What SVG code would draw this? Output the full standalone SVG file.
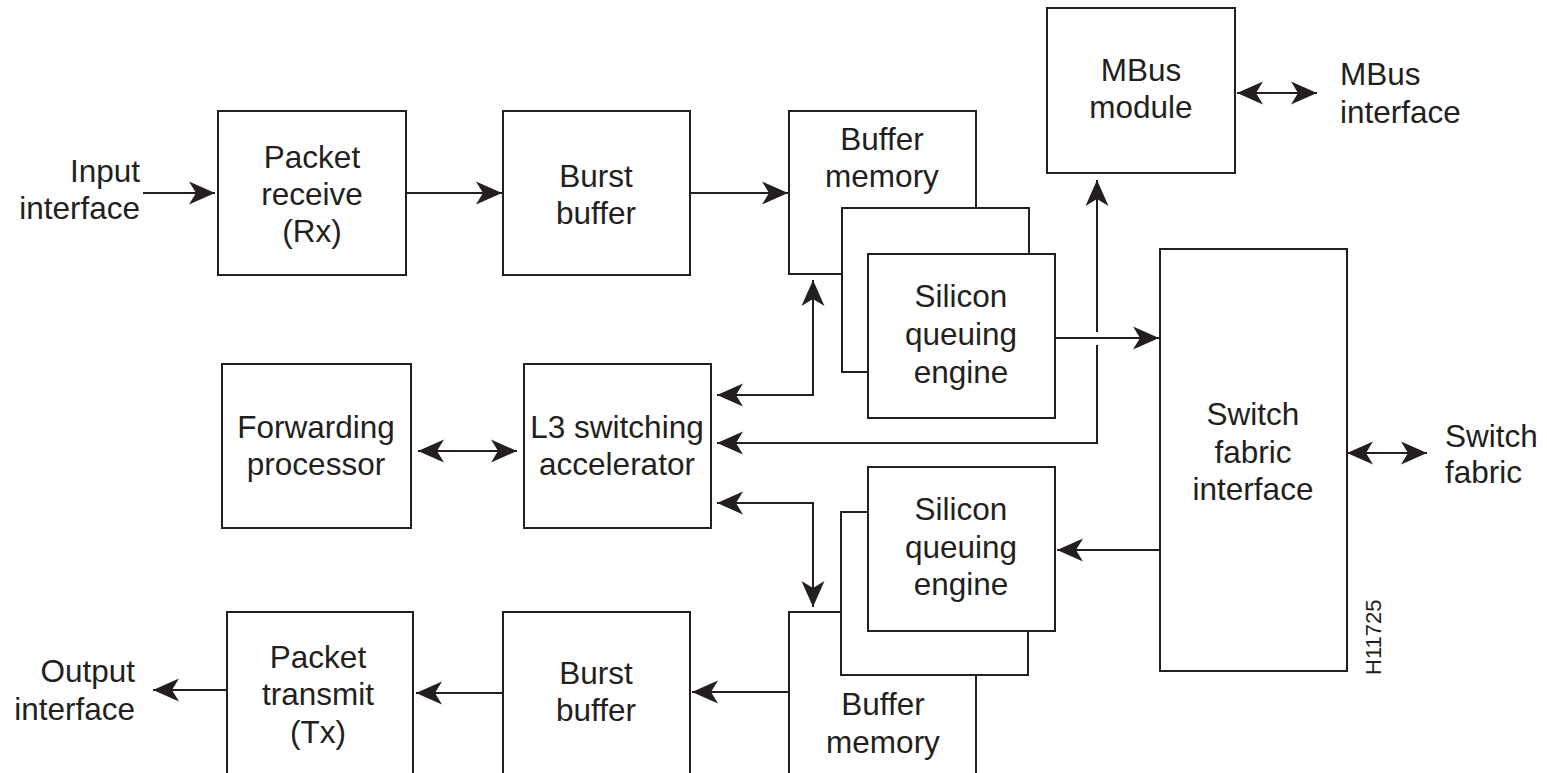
<svg xmlns="http://www.w3.org/2000/svg" width="1547" height="773" viewBox="0 0 1547 773">
<style>
.box{fill:#fff;stroke:#231f20;stroke-width:2}
.t{font-family:"Liberation Sans",Arial,sans-serif;font-size:31.5px;fill:#231f20}
.c{text-anchor:middle}
.r{text-anchor:end}
.ln{fill:none;stroke:#231f20;stroke-width:2}
.a1{marker-end:url(#ah)}
.a2{marker-start:url(#ah);marker-end:url(#ah)}
</style>
<defs>
<marker id="ah" markerUnits="userSpaceOnUse" markerWidth="30" markerHeight="26" viewBox="0 -13 28 26" refX="26" refY="0" orient="auto-start-reverse">
<path d="M26,0 L0,-11.5 L7,0 L0,11.5 Z" fill="#231f20"/>
</marker>
</defs>
<rect width="1547" height="773" fill="#fff"/>

<g id="connectors">
<path class="ln a1" d="M143,193 H215"/>
<path class="ln a1" d="M406,193 H502"/>
<path class="ln a1" d="M690,193 H788"/>
<path class="ln a2" d="M813,280 V395 H717"/>
<path class="ln a2" d="M1097,180 V332 M1097,345 V443 H717"/>
<path class="ln a1" d="M1055,338 H1159"/>
<path class="ln a2" d="M717,503 H813 V607"/>
<path class="ln a1" d="M1160,550 H1057"/>
<path class="ln a1" d="M789,692 H692"/>
<path class="ln a1" d="M503,693 H416"/>
<path class="ln a1" d="M227,690 H153"/>
<path class="ln a2" d="M418,451 H517"/>
<path class="ln a2" d="M1237,93 H1317"/>
<path class="ln a2" d="M1347,453 H1427"/>
</g>

<g id="input-interface">
<text class="t r" x="140" y="182">Input</text>
<text class="t r" x="140" y="219">interface</text>
</g>

<g id="packet-receive">
<rect class="box" x="218" y="111" width="188" height="164"/>
<text class="t c" x="312" y="168">Packet</text>
<text class="t c" x="312" y="205">receive</text>
<text class="t c" x="312" y="242">(Rx)</text>
</g>

<g id="burst-buffer-top">
<rect class="box" x="503" y="111" width="187" height="164"/>
<text class="t c" x="596" y="187">Burst</text>
<text class="t c" x="596" y="224">buffer</text>
</g>

<g id="buffer-memory-top">
<rect class="box" x="789" y="111" width="187" height="163"/>
<text class="t c" x="882" y="150">Buffer</text>
<text class="t c" x="882" y="187">memory</text>
</g>
<g id="sqe-top-back">
<rect class="box" x="842" y="208" width="187" height="164"/>
</g>
<g id="sqe-top">
<rect class="box" x="868" y="254" width="187" height="164"/>
<text class="t c" x="961" y="307">Silicon</text>
<text class="t c" x="961" y="345">queuing</text>
<text class="t c" x="961" y="383">engine</text>
</g>

<g id="mbus-module">
<rect class="box" x="1047" y="8" width="188" height="165"/>
<text class="t c" x="1141" y="81">MBus</text>
<text class="t c" x="1141" y="118">module</text>
</g>
<g id="mbus-interface">
<text class="t" x="1340" y="85">MBus</text>
<text class="t" x="1340" y="123">interface</text>
</g>

<g id="forwarding-processor">
<rect class="box" x="222" y="364" width="189" height="164"/>
<text class="t c" x="316" y="438">Forwarding</text>
<text class="t c" x="316" y="475">processor</text>
</g>

<g id="l3-accelerator">
<rect class="box" x="524" y="364" width="187" height="164"/>
<text class="t c" x="617" y="438">L3 switching</text>
<text class="t c" x="617" y="475">accelerator</text>
</g>

<g id="switch-fabric-interface">
<rect class="box" x="1160" y="249" width="187" height="422"/>
<text class="t c" x="1253" y="425">Switch</text>
<text class="t c" x="1253" y="463">fabric</text>
<text class="t c" x="1253" y="500">interface</text>
</g>
<g id="switch-fabric">
<text class="t" x="1445" y="447">Switch</text>
<text class="t" x="1445" y="483">fabric</text>
</g>

<g id="buffer-memory-bottom">
<rect class="box" x="789" y="612" width="187" height="170"/>
<text class="t c" x="883" y="715">Buffer</text>
<text class="t c" x="883" y="753">memory</text>
</g>
<g id="sqe-bottom-back">
<rect class="box" x="841" y="512" width="187" height="163"/>
</g>
<g id="sqe-bottom">
<rect class="box" x="868" y="467" width="187" height="164"/>
<text class="t c" x="961" y="520">Silicon</text>
<text class="t c" x="961" y="558">queuing</text>
<text class="t c" x="961" y="595">engine</text>
</g>

<g id="burst-buffer-bottom">
<rect class="box" x="503" y="612" width="187" height="170"/>
<text class="t c" x="596" y="684">Burst</text>
<text class="t c" x="596" y="721">buffer</text>
</g>

<g id="packet-transmit">
<rect class="box" x="227" y="612" width="186" height="170"/>
<text class="t c" x="318" y="668">Packet</text>
<text class="t c" x="318" y="705">transmit</text>
<text class="t c" x="318" y="743">(Tx)</text>
</g>

<g id="output-interface">
<text class="t r" x="135" y="682">Output</text>
<text class="t r" x="135" y="720">interface</text>
</g>

<text class="t" style="font-size:22px" transform="translate(1381,675) rotate(-90)">H11725</text>
</svg>
